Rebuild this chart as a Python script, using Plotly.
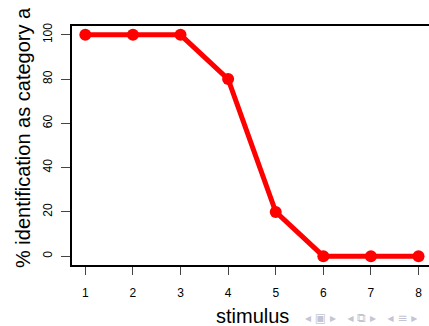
import plotly.graph_objects as go

stimulus = [1, 2, 3, 4, 5, 6, 7, 8]
pct_a = [100, 100, 100, 80, 20, 0, 0, 0]
y_ticks = [0, 20, 40, 60, 80, 100]
x_title = "stimulus"
y_title = "% identification as category a"
nav_text = "◂ ▣ ▸   ◂ ⧉ ▸   ◂ ≡ ▸"

W, H = 429, 326
L, R, T, B = 72, 0, 26, 61

fig = go.Figure()
fig.add_trace(go.Scatter(
    x=stimulus, y=pct_a, mode="lines+markers",
    line=dict(color="#ff0000", width=5),
    marker=dict(color="#ff0000", size=12),
    showlegend=False, cliponaxis=False,
))

font = dict(family="Liberation Sans, Arial, sans-serif", color="black")

fig.update_layout(
    width=W, height=H,
    margin=dict(l=L, r=R, t=T, b=B),
    paper_bgcolor="white", plot_bgcolor="white",
    font=dict(size=12, **font),
    xaxis=dict(
        range=[0.72, 0.72 + (W - L) / 47.6],
        tickvals=stimulus, ticks="outside", ticklen=8, tickwidth=1, tickcolor="#444",
        showline=True, mirror=True, linecolor="black", linewidth=1.5,
        showgrid=False, zeroline=False, tickfont=dict(size=12),
        ticklabelstandoff=8,
    ),
    yaxis=dict(
        range=[-4, 104],
        tickvals=y_ticks, ticks="outside", ticklen=9, tickwidth=1, tickcolor="#444",
        showline=True, mirror=False, linecolor="black", linewidth=1.5,
        showgrid=False, zeroline=False, tickangle=-90, tickfont=dict(size=12),
        ticklabelstandoff=4,
    ),
    annotations=[
        dict(text=y_title, xref="paper", yref="paper",
             x=(23 - L) / (W - L), y=(H - B - 138) / (H - B - T),
             xanchor="center", yanchor="middle", textangle=-90,
             showarrow=False, font=dict(size=20, **font)),
        dict(text=nav_text, xref="paper", yref="paper",
             x=(419 - L) / (W - L), y=(H - B - 318) / (H - B - T),
             xanchor="right", yanchor="middle",
             showarrow=False, font=dict(size=12, family="DejaVu Sans", color="#c4c4d4")),
        dict(text=x_title, xref="paper", yref="paper",
             x=(252 - L) / (W - L), y=(H - B - 316) / (H - B - T),
             xanchor="center", yanchor="middle",
             showarrow=False, font=dict(size=20, **font)),
    ],
)

fig.write_html("out.html")
